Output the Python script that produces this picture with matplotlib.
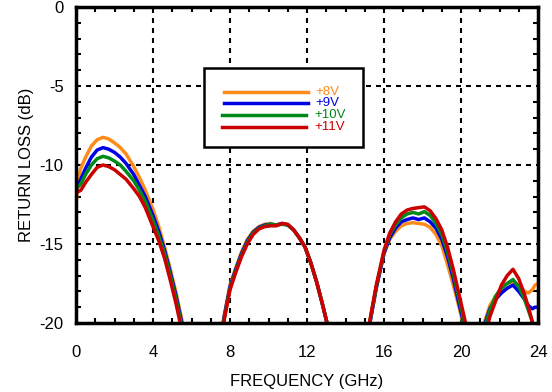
import numpy as np
import matplotlib.pyplot as plt
from matplotlib.patches import Rectangle
from matplotlib.ticker import MultipleLocator

plt.rcParams['font.family'] = ['Liberation Sans', 'DejaVu Sans']
plt.rcParams['axes.unicode_minus'] = False

nan = np.nan

# Frequencia (GHz) - nan separa as bandas
freq = [0, 0.1, 0.25, 0.5, 0.8, 1.1, 1.4, 1.7, 2.0, 2.3, 2.6, 3.0, 3.3, 3.6, 4.0, 4.3, 4.6, 4.9, 5.2, 5.5, 5.7,
        5.8,
        7.5, 7.7, 8.0, 8.3, 8.6, 8.9, 9.2, 9.5, 9.8, 10.1, 10.4, 10.7, 11.0, 11.3, 11.6, 11.9, 12.2, 12.5, 12.8, 13.1,
        13.2,
        15.1, 15.3, 15.6, 16.0, 16.3, 16.6, 16.9, 17.2, 17.5, 17.8, 18.1, 18.4, 18.7, 19.0, 19.3, 19.6, 19.9, 20.2, 20.4,
        20.5,
        21.0, 21.2, 21.5, 21.8, 22.1, 22.4, 22.7, 23.0, 23.3, 23.5, 23.7, 23.85, 24.0]

rl_8v = [-12.6, -10.9, -10.2, -9.5, -8.8, -8.4, -8.25, -8.35, -8.6, -8.9, -9.3, -10.1, -10.8, -11.6, -12.8, -13.9, -15.2, -16.6, -18.1, -19.8, -21,
         nan,
         -21, -19.5, -17.6, -16.5, -15.5, -14.7, -14.2, -13.9, -13.75, -13.7, -13.8, -13.7, -13.8, -14.1, -14.6, -15.2, -16.2, -17.4, -18.8, -20.3,
         nan,
         -21, -19.7, -17.7, -15.6, -14.7, -14.2, -13.85, -13.7, -13.65, -13.7, -13.75, -13.95, -14.4, -15.1, -16.3, -17.6, -19.0, -20.5, -21,
         nan,
         -21.5, -20.0, -18.9, -18.3, -17.8, -17.5, -17.4, -17.6, -18.0, -18.1, -17.9, -17.6, -17.5]

rl_9v = [-11.8, -11.3, -10.9, -10.2, -9.5, -9.05, -8.9, -9.0, -9.2, -9.5, -9.9, -10.6, -11.3, -12.0, -13.2, -14.2, -15.4, -16.8, -18.3, -20.0, -21,
         nan,
         -21, -19.6, -17.7, -16.6, -15.6, -14.8, -14.25, -13.95, -13.8, -13.75, -13.8, -13.7, -13.8, -14.1, -14.6, -15.2, -16.2, -17.4, -18.8, -20.3,
         nan,
         -21, -19.8, -17.8, -15.6, -14.6, -14.0, -13.6, -13.45, -13.35, -13.45, -13.35, -13.6, -14.0, -14.7, -15.8, -17.2, -18.8, -20.3, -21,
         nan,
         -22, -20.2, -19.1, -18.5, -18.1, -17.8, -17.6, -18.0, -18.5, -18.9, -19.1, -19.0, -19.0]

rl_10v = [-11.5, -11.4, -11.2, -10.6, -10.0, -9.6, -9.45, -9.55, -9.75, -10.0, -10.4, -11.0, -11.6, -12.3, -13.5, -14.5, -15.6, -17.0, -18.5, -20.2, -21.5,
          nan,
          -21, -19.7, -17.8, -16.7, -15.7, -14.9, -14.3, -14.0, -13.85, -13.75, -13.8, -13.75, -13.8, -14.1, -14.6, -15.2, -16.2, -17.4, -18.8, -20.3,
          nan,
          -21, -19.7, -17.7, -15.5, -14.4, -13.8, -13.35, -13.1, -13.0, -13.1, -12.95, -13.2, -13.7, -14.4, -15.5, -16.9, -18.5, -20.1, -21,
          nan,
          -22, -20.4, -19.2, -18.3, -17.8, -17.5, -17.25, -17.7, -18.5, -19.2, -19.9, -20.5, -21]

rl_11v = [-11.4, -11.7, -11.6, -11.1, -10.6, -10.15, -10.0, -10.1, -10.3, -10.6, -10.9, -11.5, -12.0, -12.7, -13.9, -14.8, -15.9, -17.3, -18.8, -20.5, -21.5,
          nan,
          -21, -19.8, -17.9, -16.8, -15.8, -15.0, -14.4, -14.05, -13.9, -13.85, -13.85, -13.7, -13.75, -14.1, -14.6, -15.2, -16.2, -17.4, -18.8, -20.3,
          nan,
          -21, -19.6, -17.6, -15.4, -14.3, -13.6, -13.1, -12.85, -12.75, -12.7, -12.65, -12.9, -13.4, -14.1, -15.2, -16.6, -18.2, -19.8, -21,
          nan,
          -22, -21, -19.6, -18.6, -17.6, -17.0, -16.6, -17.2, -18.2, -19.0, -19.9, -21, -22]

labels = ['+8V', '+9V', '+10V', '+11V']
cores = ['#ff8c1a', '#0000e6', '#008a1a', '#cc0000']
series = [rl_8v, rl_9v, rl_10v, rl_11v]

fig = plt.figure(figsize=(5.52, 3.92), dpi=100)
ax = fig.add_axes([76 / 552, 69 / 392, 462 / 552, 316 / 392])

for vals, cor in zip(series, cores):
    ax.plot(freq, vals, color=cor, lw=2.5, solid_capstyle='butt')

ax.set_xlim(0, 24)
ax.set_ylim(-20, 0)
ax.xaxis.set_major_locator(MultipleLocator(4))
ax.xaxis.set_minor_locator(MultipleLocator(1))
ax.yaxis.set_major_locator(MultipleLocator(5))
ax.yaxis.set_minor_locator(MultipleLocator(1))
ax.tick_params(which='both', direction='in', top=True, right=True, labelsize=12, width=1.5)
ax.tick_params(which='major', length=0)
ax.tick_params(axis='x', which='major', pad=16)
ax.tick_params(axis='y', which='major', pad=9)
ax.tick_params(which='minor', length=3.5)
ax.grid(True, which='major', color='black', lw=1.5, linestyle=(0, (2.4, 2.4)))
for s in ax.spines.values():
    s.set_linewidth(2.5)

ax.set_xlabel('FREQUENCY (GHz)', fontsize=12, labelpad=10)
ax.set_ylabel('RETURN LOSS (dB)', fontsize=12, labelpad=4)

# Legenda desenhada a mao
ax.add_patch(Rectangle((0.277, 0.557), 0.344, 0.25, transform=ax.transAxes,
                       facecolor='white', edgecolor='black', lw=1.8, zorder=5))
ys = [0.731, 0.696, 0.658, 0.620]
x0 = [0.320, 0.320, 0.316, 0.316]
x1 = [0.502, 0.502, 0.498, 0.498]
xt = [0.519, 0.519, 0.515, 0.515]
for lab, cor, y, a, b, t in zip(labels, cores, ys, x0, x1, xt):
    ax.plot([a, b], [y, y], color=cor, lw=2.5, transform=ax.transAxes, zorder=6)
    ax.text(t, y, lab, color=cor, fontsize=9.5, va='center', ha='left',
            transform=ax.transAxes, zorder=6)

fig.savefig('out.png', dpi=100)
